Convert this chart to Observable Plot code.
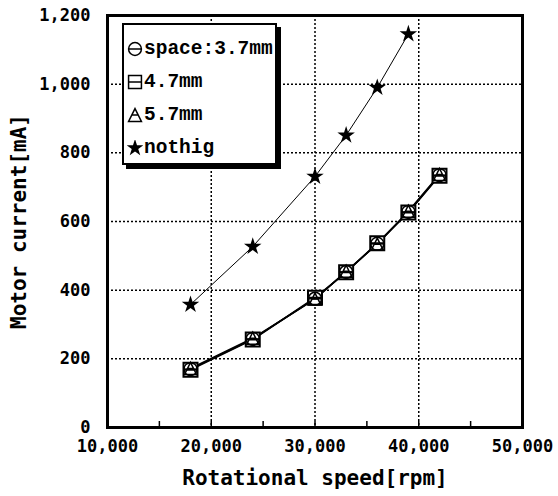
<!DOCTYPE html>
<html>
<head>
<meta charset="utf-8">
<script src="https://cdn.jsdelivr.net/npm/d3@7"></script>
<script src="https://cdn.jsdelivr.net/npm/@observablehq/plot@0.6"></script>
<style>
  body { margin: 0; background: white; }
  #wrap { position: relative; width: 558px; height: 496px; }
  #wrap svg g[aria-label="x-axis label"] text,
  #wrap svg g[aria-label="y-axis label"] text { font-size: 21px; font-weight: 600; }
  #legend {
    position: absolute; left: 122px; top: 23px; width: 155px; height: 142px;
    border: 2px solid black; box-shadow: 4px 4px 0 black; background: white;
    font-family: "Liberation Mono", monospace; font-weight: bold; font-size: 19.5px;
    box-sizing: border-box; padding: 7px 0 0 3px;
  }
  #legend .item { display: flex; align-items: center; height: 33px; }
  #legend svg { margin-right: 1px; }
</style>
</head>
<body>
<div id="wrap"></div>
<script>
// ---- data ----
const speeds = [18000, 24000, 30000, 33000, 36000, 39000, 42000];
const space37 = [170, 258, 375, 453, 535, 628, 735];
const space47 = [168, 256, 378, 452, 537, 626, 733];
const space57 = [172, 260, 374, 455, 534, 630, 737];
const nothigSpeeds = [18000, 24000, 30000, 33000, 36000, 39000];
const nothig = [358, 527, 731, 851, 990, 1146];
const seriesNames = ["space:3.7mm", "4.7mm", "5.7mm", "nothig"];
const xTicks = [10000, 20000, 30000, 40000, 50000];
const yTicks = [0, 200, 400, 600, 800, 1000, 1200];

// ---- custom symbols ----
const circleLine = {draw(ctx, size) {
  const r = Math.sqrt(size / Math.PI);
  ctx.moveTo(r, 0); ctx.arc(0, 0, r, 0, 2 * Math.PI);
  ctx.moveTo(-r, 0); ctx.lineTo(r, 0);
}};
const squareLine = {draw(ctx, size) {
  const h = Math.sqrt(size / Math.PI);
  ctx.moveTo(-h, -h); ctx.lineTo(h, -h); ctx.lineTo(h, h); ctx.lineTo(-h, h); ctx.closePath();
  ctx.moveTo(-h, 0); ctx.lineTo(h, 0);
}};
const triangleLine = {draw(ctx, size) {
  const h = Math.sqrt(size / Math.PI);
  ctx.moveTo(0, -h); ctx.lineTo(h, h); ctx.lineTo(-h, h); ctx.closePath();
  ctx.moveTo(-h / 2, 0); ctx.lineTo(h / 2, 0);
}};
const symbols = [circleLine, squareLine, triangleLine, d3.symbolStar];

const mk = (xs, ys, s) => xs.map((x, i) => ({x, y: ys[i], s}));
const d37 = mk(speeds, space37, seriesNames[0]);
const d47 = mk(speeds, space47, seriesNames[1]);
const d57 = mk(speeds, space57, seriesNames[2]);
const dN = mk(nothigSpeeds, nothig, seriesNames[3]);

const dotted = {stroke: "black", strokeOpacity: 1, strokeWidth: 1.5, strokeDasharray: "2,2"};

const chart = Plot.plot({
  width: 558, height: 496,
  marginLeft: 107, marginRight: 36, marginTop: 15, marginBottom: 69,
  style: {fontFamily: "DejaVu Sans Mono", fontWeight: "bold", fontSize: "17px", color: "black", background: "white"},
  x: {domain: [10000, 50000]},
  y: {domain: [0, 1200]},
  marks: [
    Plot.gridX([20000, 30000, 40000], dotted),
    Plot.gridY([200, 400, 600, 800, 1000], dotted),
    Plot.axisX({ticks: d3.range(15000, 50000, 5000), tickSize: -6, strokeWidth: 1.5, tickFormat: () => "", label: null}),
    Plot.axisX({ticks: xTicks, tickSize: 0, tickPadding: 12, tickFormat: d3.format(","),
      label: "Rotational speed[rpm]", labelAnchor: "center", labelArrow: "none", labelOffset: 57}),
    Plot.axisY({ticks: yTicks, tickSize: 0, tickPadding: 17, tickFormat: d3.format(","),
      label: "Motor current[mA]", labelAnchor: "center", labelArrow: "none", labelOffset: 96}),
    Plot.line(dN, {x: "x", y: "y", stroke: "black", strokeWidth: 1}),
    Plot.line(d37, {x: "x", y: "y", stroke: "black", strokeWidth: 1.6}),
    Plot.line(d47, {x: "x", y: "y", stroke: "black", strokeWidth: 1.6}),
    Plot.line(d57, {x: "x", y: "y", stroke: "black", strokeWidth: 1.6}),
    Plot.dot(d47, {x: "x", y: "y", symbol: () => squareLine, r: 7, stroke: "black", strokeWidth: 2, fill: "white"}),
    Plot.dot(d37, {x: "x", y: "y", symbol: () => circleLine, r: 6.5, stroke: "black", strokeWidth: 1.5, fill: "none"}),
    Plot.dot(d57, {x: "x", y: "y", symbol: () => triangleLine, r: 6, stroke: "black", strokeWidth: 1.5, fill: "none"}),
    Plot.dot(dN, {x: "x", y: "y", symbol: "star", r: 5.5, fill: "black", stroke: "none"}),
    Plot.frame({stroke: "black", strokeWidth: 3})
  ]
});

const wrap = document.getElementById("wrap");
wrap.appendChild(chart);

// legend
const legend = document.createElement("div");
legend.id = "legend";
seriesNames.forEach((name, i) => {
  const item = document.createElement("div");
  item.className = "item";
  const svg = d3.create("svg").attr("width", 16).attr("height", 16).attr("viewBox", "-8 -8 16 16");
  svg.append("path")
    .attr("d", d3.symbol(symbols[i], i === 3 ? 90 : 130)())
    .attr("fill", i === 3 ? "black" : "none")
    .attr("stroke", i === 3 ? "none" : "black")
    .attr("stroke-width", 1.5);
  item.appendChild(svg.node());
  const span = document.createElement("span");
  span.textContent = name;
  item.appendChild(span);
  legend.appendChild(item);
});
wrap.appendChild(legend);
</script>
</body>
</html>
